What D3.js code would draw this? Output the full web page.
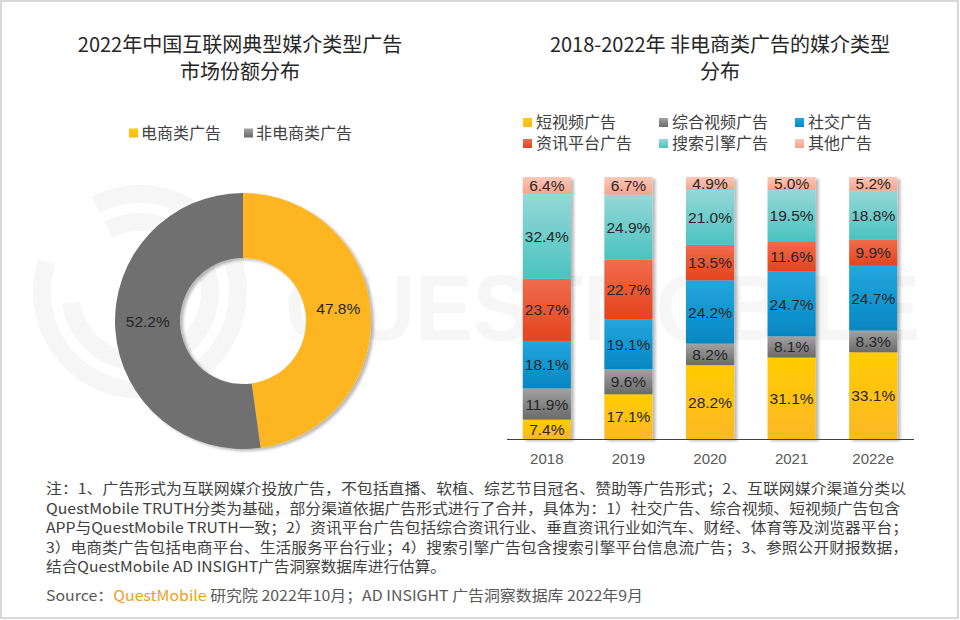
<!DOCTYPE html>
<html>
<head>
<meta charset="utf-8">
<script src="https://cdn.jsdelivr.net/npm/d3@7"></script>
<style>
  body { margin: 0; background: #fff; }
  svg text { font-family: "Noto Sans CJK SC", "Liberation Sans", sans-serif; }
</style>
</head>
<body>
<div id="chart"></div>
<script>
var pieLabels = ['电商类广告', '非电商类广告'];
var pieValues = [47.8, 52.2];

var years = ['2018', '2019', '2020', '2021', '2022e'];
var seriesNames = ['短视频广告', '综合视频广告', '社交广告', '资讯平台广告', '搜索引擎广告', '其他广告'];
var shortVideo = [7.4, 17.1, 28.2, 31.1, 33.1];
var longVideo = [11.9, 9.6, 8.2, 8.1, 8.3];
var social = [18.1, 19.1, 24.2, 24.7, 24.7];
var news = [23.7, 22.7, 13.5, 11.6, 9.9];
var search = [32.4, 24.9, 21.0, 19.5, 18.8];
var other = [6.4, 6.7, 4.9, 5.0, 5.2];

var noteLines = [
  '注：1、广告形式为互联网媒介投放广告，不包括直播、软植、综艺节目冠名、赞助等广告形式；2、互联网媒介渠道分类以',
  'QuestMobile TRUTH分类为基础，部分渠道依据广告形式进行了合并，具体为：1）社交广告、综合视频、短视频广告包含',
  'APP与QuestMobile TRUTH一致；2）资讯平台广告包括综合资讯行业、垂直资讯行业如汽车、财经、体育等及浏览器平台；',
  '3）电商类广告包括电商平台、生活服务平台行业；4）搜索引擎广告包含搜索引擎平台信息流广告；3、参照公开财报数据，',
  '结合QuestMobile AD INSIGHT广告洞察数据库进行估算。'
];

var width = 960, height = 620;

// top / bottom colours of each gradient
var pieColors = [['#ffcc00', '#fdb623'], ['#a3a3a3', '#707070']];
var barColors = [
  ['#ffcc00', '#fdb827'],
  ['#a2a2a2', '#6a6a6a'],
  ['#25a6dd', '#0587c3'],
  ['#f06c4c', '#e4431e'],
  ['#95d8d8', '#4ac3bf'],
  ['#fcc8b8', '#f8a38c']
];

var svg = d3.select('#chart').append('svg')
    .attr('width', width)
    .attr('height', height);

var defs = svg.append('defs');

defs.append('filter')
    .attr('id', 'shadow')
    .attr('x', '-20%').attr('y', '-20%')
    .attr('width', '150%').attr('height', '150%')
  .append('feDropShadow')
    .attr('dx', 3).attr('dy', 2)
    .attr('stdDeviation', 1.6)
    .attr('flood-color', '#000')
    .attr('flood-opacity', 0.28);

barColors.forEach(function(c, i) {
  var lg = defs.append('linearGradient')
      .attr('id', 'bar-grad-' + i)
      .attr('x1', 0).attr('y1', 0).attr('x2', 0).attr('y2', 1);
  lg.append('stop').attr('offset', '0%').attr('stop-color', c[0]);
  lg.append('stop').attr('offset', '100%').attr('stop-color', c[1]);
});

var cx = 243, cy = 321, outerR = 128, innerR = 63;

pieColors.forEach(function(c, i) {
  var rg = defs.append('radialGradient')
      .attr('id', 'pie-grad-' + i)
      .attr('gradientUnits', 'userSpaceOnUse')
      .attr('cx', cx).attr('cy', cy).attr('r', outerR);
  rg.append('stop').attr('offset', '45%').attr('stop-color', c[0]);
  rg.append('stop').attr('offset', '100%').attr('stop-color', c[1]);
});

// frame
svg.append('rect')
    .attr('x', 1).attr('y', 1)
    .attr('width', width - 3).attr('height', height - 3)
    .attr('fill', '#fff')
    .attr('stroke', '#cccccc')
    .attr('stroke-width', 1.5);

// watermark
var wm = svg.append('g').attr('class', 'watermark');
[98, 70].forEach(function(r, i) {
  wm.append('path')
      .attr('transform', 'translate(140,292)')
      .attr('d', d3.arc().innerRadius(r - 9).outerRadius(r + 9)
          .startAngle(-Math.PI * 0.15).endAngle(Math.PI * (i ? 1.45 : 1.6))())
      .attr('fill', '#f6f6f6');
});
wm.append('text')
    .attr('x', 285).attr('y', 340)
    .attr('textLength', 635)
    .attr('lengthAdjust', 'spacingAndGlyphs')
    .style('font-family', '"Liberation Sans", sans-serif')
    .style('font-weight', 'bold')
    .style('font-size', '92px')
    .attr('fill', '#f6f6f6')
    .text('QUESTMOBILE');

// titles
function title(x, lines) {
  var t = svg.append('text')
      .attr('text-anchor', 'middle')
      .attr('fill', '#262626')
      .style('font-size', '20px');
  lines.forEach(function(l, i) {
    t.append('tspan').attr('x', x).attr('y', 52 + i * 27).text(l);
  });
}
title(240, ['2022年中国互联网典型媒介类型广告', '市场份额分布']);
title(720, ['2018-2022年 非电商类广告的媒介类型', '分布']);

// donut legend
var pieLegendX = [129, 244];
pieLabels.forEach(function(name, i) {
  svg.append('rect')
      .attr('x', pieLegendX[i]).attr('y', 128.5)
      .attr('width', 9).attr('height', 9)
      .attr('fill', 'url(#bar-grad-' + i + ')');
  svg.append('text')
      .attr('x', pieLegendX[i] + 12).attr('y', 139)
      .attr('fill', '#404040')
      .style('font-size', '16px')
      .text(name);
});

// donut
var pie = d3.pie().sort(null).value(function(d) { return d; });
var arc = d3.arc().innerRadius(innerR).outerRadius(outerR);
var arcs = pie(pieValues);

var pg = svg.append('g')
    .attr('transform', 'translate(' + cx + ',' + cy + ')');

pg.append('g')
    .attr('filter', 'url(#shadow)')
  .selectAll('path')
  .data(arcs)
  .enter().append('path')
    .attr('d', arc)
    .attr('fill', function(d, i) { return 'url(#pie-grad-' + i + ')'; });

// gradients are in page space, so shift the paths back into it
pg.selectAll('path')
    .attr('transform', 'translate(' + (-cx) + ',' + (-cy) + ')')
    .attr('d', function(d) {
      return d3.arc().innerRadius(innerR).outerRadius(outerR)
          .cornerRadius(0)(d);
    });
pg.selectAll('path').attr('transform', null);

pg.selectAll('text.value')
  .data(arcs)
  .enter().append('text')
    .classed('value', true)
    .attr('transform', function(d) { return 'translate(' + arc.centroid(d) + ')'; })
    .attr('dy', '-0.05em')
    .attr('text-anchor', 'middle')
    .attr('fill', '#262626')
    .style('font-family', '"Liberation Sans", sans-serif')
    .style('font-size', '15.5px')
    .text(function(d) { return d3.format('.1f')(d.data) + '%'; });

// stacked bars
var rows = years.map(function(y, i) {
  return {
    year: y,
    s0: shortVideo[i], s1: longVideo[i], s2: social[i],
    s3: news[i], s4: search[i], s5: other[i]
  };
});
var keys = ['s0', 's1', 's2', 's3', 's4', 's5'];
var stacked = d3.stack().keys(keys).offset(d3.stackOffsetExpand)(rows);

var x = d3.scaleBand()
    .domain(years)
    .range([506, 914])
    .paddingInner(0.41)
    .paddingOuter(0.205);

var y = d3.scaleLinear()
    .domain([0, 1])
    .range([439, 177]);

var bars = svg.append('g').attr('class', 'bars');

years.forEach(function(yr, j) {
  var g = bars.append('g').attr('filter', 'url(#shadow)');
  stacked.forEach(function(layer, k) {
    var d = layer[j];
    g.append('rect')
        .attr('x', x(yr))
        .attr('width', x.bandwidth())
        .attr('y', y(d[1]))
        .attr('height', y(d[0]) - y(d[1]))
        .attr('fill', 'url(#bar-grad-' + k + ')');
  });
});

years.forEach(function(yr, j) {
  stacked.forEach(function(layer, k) {
    var d = layer[j];
    bars.append('text')
        .attr('x', x(yr) + x.bandwidth() / 2)
        .attr('y', (y(d[0]) + y(d[1])) / 2)
        .attr('dy', '0.36em')
        .attr('text-anchor', 'middle')
        .attr('fill', '#262626')
        .style('font-family', '"Liberation Sans", sans-serif')
        .style('font-size', '15.5px')
        .text(d3.format('.1f')(d.data[keys[k]]) + '%');
  });
});

var xAxis = svg.append('g')
    .attr('transform', 'translate(0,' + y(0) + ')')
    .call(d3.axisBottom(x).tickSize(0).tickPadding(14));
xAxis.select('.domain')
    .attr('d', 'M507,0.5H914')
    .attr('stroke', '#404040');
xAxis.selectAll('text')
    .attr('fill', '#595959')
    .style('font-family', '"Liberation Sans", sans-serif')
    .style('font-size', '15px');

// bar legend
var legX = [523, 659, 795];
seriesNames.forEach(function(name, i) {
  var lx = legX[i % 3], ly = 118 + Math.floor(i / 3) * 21;
  svg.append('rect')
      .attr('x', lx).attr('y', ly)
      .attr('width', 9).attr('height', 9)
      .attr('fill', 'url(#bar-grad-' + i + ')');
  svg.append('text')
      .attr('x', lx + 13).attr('y', ly + 10)
      .attr('fill', '#404040')
      .style('font-size', '16px')
      .text(name);
});

// notes
var noteEnds = [906, 900, 908, 908, 446];
noteLines.forEach(function(l, i) {
  svg.append('text')
      .attr('x', 46)
      .attr('y', 494 + i * 19.6)
      .attr('textLength', noteEnds[i] - 46)
      .attr('lengthAdjust', 'spacingAndGlyphs')
      .attr('fill', '#404040')
      .style('font-size', '14.5px')
      .text(l);
});

var src = svg.append('text')
    .attr('x', 46).attr('y', 601)
    .attr('textLength', 643 - 46)
    .attr('lengthAdjust', 'spacingAndGlyphs')
    .attr('fill', '#595959')
    .style('font-size', '14.5px');
src.append('tspan').text('Source：');
src.append('tspan').attr('fill', '#f39c1a').text('QuestMobile');
src.append('tspan').text(' 研究院 2022年10月；AD INSIGHT 广告洞察数据库 2022年9月');
</script>
</body>
</html>
